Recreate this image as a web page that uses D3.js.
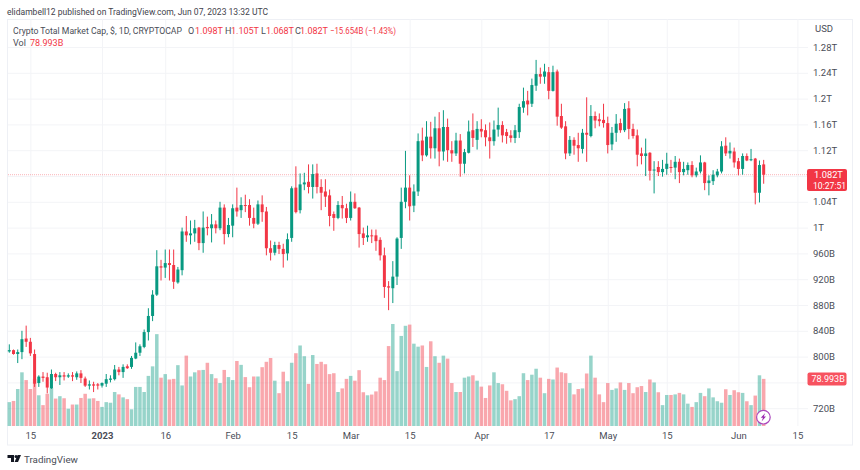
<!DOCTYPE html>
<html><head><meta charset="utf-8">
<script src="https://cdnjs.cloudflare.com/ajax/libs/d3/7.8.5/d3.min.js"></script>
<style>html,body{margin:0;padding:0;background:#fff}svg{display:block}text{font-family:Roboto,sans-serif}</style>
</head><body><svg id="c" width="860" height="470"></svg>
<script>
const firstDay = "2022-12-10";
// One value per day, in billions of USD
const opens = [
808,810,804,807,828,823,804,759,769,768,751,773,768,771,769,771,768,774,766,755,757,757,
755,758,764,765,780,776,785,784,797,806,815,838,863,896,940,938,945,942,915,934,994,988,991,1000,976,1001,999,1005,999,1031,990,
1003,1031,1027,1035,1035,1015,1006,1036,1025,968,961,973,967,960,984,1062,1027,1067,1071,1063,1084,1063,1056,1050,1021,1015,1035,1030,
1015,1040,1031,991,985,988,988,981,957,909,906,924,984,1040,1062,1034,1056,1135,1112,1141,1123,1154,1118,1156,1120,1115,1135,1099,1116,1151,1136,
1153,1151,1140,1134,1152,1159,1148,1143,1139,1148,1186,1197,1192,1220,1238,1234,1241,1212,1242,1173,1157,1115,1136,1128,1122,1147,1142,1173,1168,1167,
1162,1129,1147,1162,1151,1185,1153,1143,1115,1111,1116,1089,1094,1086,1091,1094,1093,1102,1086,1089,1097,1081,1087,1101,1069,1072,1081,1087,1127,1115,1118,
1103,1091,1111,1105,1107,1054,1098];
const highs = [
819,811,811,840,848,829,811,771,776,775,780,775,776,776,774,776,777,779,769,763,761,759,
760,773,771,787,784,788,788,801,822,819,842,875,903,965,950,966,966,966,939,1000,1018,1011,1012,1001,1025,1017,1021,1011,1040,1036,1015,
1036,1062,1047,1051,1044,1031,1042,1050,1032,980,978,978,975,991,1064,1095,1084,1085,1098,1098,1099,1075,1075,1059,1025,1041,1049,1037,
1056,1053,1032,1000,1003,997,997,985,969,917,948,985,1062,1119,1081,1067,1146,1155,1165,1164,1172,1179,1182,1169,1134,1147,1145,1122,1166,1177,1165,
1168,1160,1163,1166,1186,1165,1153,1151,1159,1192,1217,1212,1231,1260,1248,1254,1249,1251,1245,1192,1165,1142,1140,1147,1153,1202,1190,1180,1177,1192,
1172,1156,1176,1169,1193,1196,1161,1152,1124,1138,1117,1103,1103,1105,1116,1105,1111,1107,1102,1101,1103,1093,1112,1102,1081,1089,1091,1134,1140,1132,1124,
1108,1115,1115,1122,1108,1104,1105];
const lows = [
806,803,790,796,815,801,753,753,761,743,750,762,756,763,767,762,764,759,753,749,745,749,
752,753,760,763,771,767,781,781,796,801,813,825,855,894,918,922,918,905,913,926,978,974,978,965,961,988,977,991,996,974,985,
985,1017,1015,1024,1003,999,1004,1009,957,949,957,959,938,949,978,1022,1022,1058,1053,1045,1053,1027,1032,1002,995,1013,1014,1007,
1011,1029,969,973,978,976,964,949,891,872,883,911,967,1030,1011,1024,1049,1103,1110,1107,1107,1095,1104,1102,1102,1111,1079,1084,1115,1125,1121,
1140,1126,1107,1127,1141,1132,1130,1132,1131,1139,1178,1174,1187,1212,1223,1223,1199,1211,1158,1153,1106,1111,1113,1102,1115,1102,1140,1154,1157,1155,
1115,1120,1133,1147,1148,1137,1138,1095,1098,1080,1073,1053,1080,1079,1082,1085,1075,1069,1081,1082,1078,1078,1084,1058,1050,1066,1078,1084,1111,1107,1093,
1081,1082,1103,1103,1036,1039,1068];
const closes = [
810,804,807,827,823,805,758,769,767,752,773,768,771,769,771,769,774,767,755,757,755,755,
759,765,766,780,776,784,782,798,806,816,838,863,896,940,938,945,942,916,935,994,988,991,999,976,1000,999,1005,999,1031,990,1004,
1030,1025,1035,1034,1015,1006,1036,1024,968,961,973,967,959,982,1061,1024,1067,1070,1063,1083,1063,1054,1048,1018,1015,1035,1030,1015,
1040,1030,990,984,988,987,979,957,908,907,924,983,1040,1062,1033,1056,1134,1112,1141,1123,1154,1118,1156,1120,1115,1135,1099,1117,1149,1139,1153,
1149,1140,1134,1152,1159,1143,1142,1139,1151,1187,1196,1191,1221,1238,1234,1242,1212,1241,1172,1155,1115,1136,1127,1123,1147,1144,1173,1166,1165,1162,
1128,1147,1161,1151,1184,1153,1142,1113,1111,1115,1088,1090,1086,1091,1099,1093,1102,1086,1091,1097,1081,1087,1101,1069,1073,1082,1087,1126,1115,1119,1101,
1091,1111,1104,1106,1054,1097,1082];
const volumes = [
40,42,62,90,77,62,79,51.5,35,54,64,46,50,46.5,29,36,36,47,54,46,46.5,42,
32,40,39,57,53,48,45,28,65.5,65.5,57,84,100,154,81,87,78,79,102,68,118,83,90,93.5,94,106,87,80,72,94,82,
77,109,102.5,82,65,83,83,98.6,107.6,114,76,55,91,75,106,122,135,117,70.6,119,104,107.6,103.6,87,88.5,57,63,79,
84,76,93.6,56.6,51.5,52.7,58,81,77,134,171,92,151,168,170,138,133,135,99,142,117,106,118,113,72,57,57,81,83,85,76,
66,47,68,90,72,70,59,43,45,50,88.5,77,86,96,81,55,79,78,98,90,88.5,72,53,62,63,88,118,81,53,40,
72,60.5,63,73,60.5,72,55,65,67,57,78,73,56.6,35,52,52,53,55.5,53,37.5,32,40,55.5,50,63,48,41.5,39,61.6,52,60,
56.6,55.5,41.5,35,51,85,78.993];
const priceTicks = [720,760,800,840,880,920,960,1000,1040,1080,1120,1160,1200,1240,1280];
const coveredTicks = [760,1080]; // grid line only: the value tags sit over these labels
const timeTicks = ["2022-12-15","2023-01-01","2023-01-16","2023-02-01","2023-02-15","2023-03-01","2023-03-15","2023-04-01","2023-04-17","2023-05-01","2023-05-15","2023-06-01","2023-06-15"];
const timeLabels = ["15","2023","16","Feb","15","Mar","15","Apr","17","May","15","Jun","15"];
const lastPrice = 1082, lastVolume = 78.993;

const UP="#089981", DOWN="#F23645", GRID="#f3f4f7", FRAME="#eef0f5", INK="#4a4d57";
const svg=d3.select("#c");
const L=8,R=808,T=19,B=426;
const dayMs=864e5, t0=new Date(firstDay+"T00:00:00Z");
const rows=opens.map((o,i)=>({date:new Date(+t0+i*dayMs),o,h:highs[i],l:lows[i],c:closes[i],v:volumes[i]}));
const x=d3.scaleUtc().domain([t0,new Date("2023-06-15T00:00:00Z")]).range([9.3,797.4]);
const y=d3.scaleLinear().domain([720,1280]).range([408.2,47]);
const yv=d3.scaleLinear().domain([0,171]).range([B,324]);
const priceFmt=v=>coveredTicks.includes(v)?"":(v>=1000?(v/1000)+"T":v+"B");

svg.append("rect").attr("x",7.5).attr("y",19.5).attr("width",845).attr("height",425.5).attr("fill","#fff").attr("stroke",FRAME);

const tickDates=timeTicks.map(d=>new Date(d+"T00:00:00Z"));
const gy=svg.append("g").attr("transform",`translate(${R},0)`)
 .call(d3.axisRight(y).tickValues(priceTicks).tickFormat(priceFmt).tickSize(0).tickPadding(5));
gy.select(".domain").remove();
gy.selectAll("line").attr("x1",L-R).attr("x2",0).attr("stroke",GRID);
gy.selectAll("text").attr("fill",INK).attr("font-size",9.5).style("font-family","Roboto,sans-serif");

const gx=svg.append("g").attr("transform",`translate(0,${B})`)
 .call(d3.axisBottom(x).tickValues(tickDates).tickFormat((d,i)=>timeLabels[i]).tickSize(0).tickPadding(6));
gx.select(".domain").remove();
gx.selectAll("line").attr("y1",T-B).attr("y2",0).attr("stroke",GRID);
gx.selectAll("text").attr("fill",INK).attr("font-size",9.5).style("font-family","Roboto,sans-serif")
 .attr("font-weight",(d,i)=>timeLabels[i]==="2023"?700:400);

const barW=3.5;
svg.append("g").selectAll("rect").data(rows).join("rect")
 .attr("x",d=>x(d.date)-barW/2).attr("width",barW)
 .attr("y",d=>yv(d.v)).attr("height",d=>B-yv(d.v))
 .attr("fill",d=>d.c>=d.o?UP:DOWN).attr("fill-opacity",d=>d.c>=d.o?.42:.44);

svg.append("line").attr("x1",L).attr("x2",R).attr("y1",y(lastPrice)).attr("y2",y(lastPrice))
 .attr("stroke",DOWN).attr("stroke-opacity",.38).attr("stroke-dasharray","1 1");

const cg=svg.append("g");
cg.selectAll("line").data(rows).join("line")
 .attr("x1",d=>x(d.date)).attr("x2",d=>x(d.date)).attr("y1",d=>y(d.h)).attr("y2",d=>y(d.l))
 .attr("stroke",d=>d.c>=d.o?UP:DOWN).attr("stroke-width",1);
const bodyW=3;
cg.selectAll("rect").data(rows).join("rect")
 .attr("x",d=>x(d.date)-bodyW/2).attr("width",bodyW)
 .attr("y",d=>y(Math.max(d.o,d.c))).attr("height",d=>Math.max(1,Math.abs(y(d.o)-y(d.c))))
 .attr("fill",d=>d.c>=d.o?UP:DOWN);

function put(s,px,py,fill,size,len){const t=svg.append("text").attr("x",px).attr("y",py).attr("fill",fill).attr("font-size",size).text(s);if(len)t.attr("textLength",len).attr("lengthAdjust","spacingAndGlyphs");return t;}
put("elidambell12 published on TradingView.com, Jun 07, 2023 13:32 UTC",7,14.5,"#3f424c",9.7,261);
put("Crypto Total Market Cap, $, 1D, CRYPTOCAP",13,33.5,INK,9,169);
[["O",188,INK],["1.098T",195,DOWN],["H",225,INK],["1.105T",231,DOWN],["L",261,INK],["1.068T",266,DOWN],["C",295,INK],["1.082T",300,DOWN]]
 .forEach(a=>put(a[0],a[1],33.5,a[2],9));
put("−15.654B (−1.43%)",330,33.5,DOWN,9,66);
put("Vol",13,45.5,INK,9);
put("78.993B",30,45.5,DOWN,9);
put("USD",815,31.5,INK,9.5);

svg.append("rect").attr("x",807).attr("y",169).attr("width",40).attr("height",22).attr("rx",2).attr("fill",DOWN);
put("1.082T",814,178,"#fff",9.3);
put("10:27:51",813,189,"#fff",8.6);
const vy=yv(lastVolume);
svg.append("rect").attr("x",807.5).attr("y",vy-6.5).attr("width",39).attr("height",13).attr("rx",2).attr("fill","#F7525F");
put("78.993B",811.5,vy+3.3,"#fff",9);

const m=svg.append("g").attr("transform","translate(763.4,417.2)");
m.append("circle").attr("r",6.8).attr("fill","#fff").attr("stroke","#ab47bc").attr("stroke-width",1.2);
m.append("path").attr("d","M1.8-4.2L-2.6 0.6H-0.4L-1.8 4.2L2.6-0.8H0.4Z").attr("fill","#9c27b0");

const lg=svg.append("g").attr("fill","#131722");
lg.append("path").attr("d","M7.5 455H14V462H11V458H7.5Z");
lg.append("circle").attr("cx",16).attr("cy",456.5).attr("r",1.5);
lg.append("path").attr("d","M21 455L18 462H14.6L17.6 455Z");
put("TradingView",24,462.5,"#4a4d57",9.8);
</script></body></html>
